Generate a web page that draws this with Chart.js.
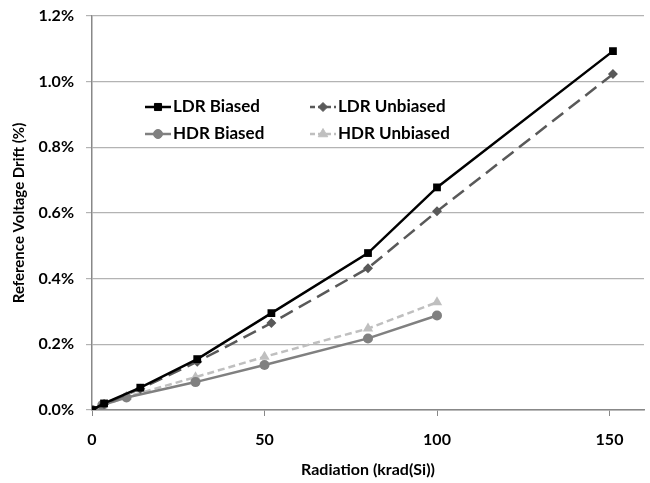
<!DOCTYPE html>
<html>
<head>
<meta charset="utf-8">
<script src="https://cdn.jsdelivr.net/npm/chart.js@4.4.0/dist/chart.umd.min.js"></script>
<style>
  body { margin: 0; background: #fff; }
</style>
</head>
<body>
<canvas id="myChart" width="650" height="483"></canvas>
<script>
// data (drift in %)
var ldrDose = [0, 3.5, 14, 30.5, 52, 80, 100, 151];
var ldrBiased = [0, 0.02, 0.068, 0.155, 0.295, 0.478, 0.678, 1.093];
var ldrUnbiased = [0, 0.018, 0.065, 0.147, 0.265, 0.432, 0.605, 1.023];
var hdrDose = [0, 3, 10, 30, 50, 80, 100];
var hdrBiased = [0, 0.015, 0.038, 0.085, 0.137, 0.218, 0.288];
var hdrUnbiased = [0, 0.013, 0.04, 0.1, 0.162, 0.248, 0.328];
var seriesNames = ["LDR Biased", "LDR Unbiased", "HDR Biased", "HDR Unbiased"];
var xTicks = [0, 50, 100, 150];

function toPoints(xs, ys) {
  return xs.map(function (x, i) { return { x: x, y: ys[i] }; });
}

var FONT = "Lato";

// legend drawn inside the plot, 2 columns like the original
var insideLegend = {
  id: "insideLegend",
  afterDatasetsDraw: function (chart) {
    var ctx = chart.ctx;
    var area = chart.chartArea;
    ctx.save();
    ctx.font = "bold 17px " + FONT;
    ctx.textBaseline = "middle";
    chart.data.datasets.forEach(function (ds, i) {
      var col = i % 2, row = Math.floor(i / 2);
      var x0 = area.left + 53 + col * 165;
      var y = area.top + 91 + row * 27;
      ctx.strokeStyle = ds.borderColor;
      ctx.lineWidth = ds.borderWidth;
      ctx.setLineDash(ds.borderDash ? [5, 3] : []);
      ctx.beginPath();
      ctx.moveTo(x0, y);
      ctx.lineTo(x0 + 26, y);
      ctx.stroke();
      ctx.setLineDash([]);
      ctx.fillStyle = ds.backgroundColor;
      ctx.lineWidth = 1;
      Chart.helpers.drawPoint(ctx, {
        pointStyle: ds.pointStyle,
        radius: ds.pointRadius - 0.5,
        borderWidth: 1
      }, x0 + 13, y);
      ctx.fillStyle = "#000";
      ctx.fillText(ds.label, x0 + 28, y);
    });
    ctx.restore();
  }
};

var ctx = document.getElementById("myChart");
var myChart = new Chart(ctx, {
  type: "line",
  data: {
    datasets: [{
      label: seriesNames[0],
      data: toPoints(ldrDose, ldrBiased),
      borderColor: "#000000",
      backgroundColor: "#000000",
      borderWidth: 2.5,
      pointStyle: "rect",
      pointRadius: 5.5,
      pointBorderWidth: 0
    }, {
      label: seriesNames[1],
      data: toPoints(ldrDose, ldrUnbiased),
      borderColor: "#595959",
      backgroundColor: "#595959",
      borderWidth: 2.5,
      borderDash: [14, 7],
      pointStyle: "rectRot",
      pointRadius: 5,
      pointBorderWidth: 0
    }, {
      label: seriesNames[2],
      data: toPoints(hdrDose, hdrBiased),
      borderColor: "#808080",
      backgroundColor: "#808080",
      borderWidth: 2.5,
      pointStyle: "circle",
      pointRadius: 5,
      pointBorderWidth: 0
    }, {
      label: seriesNames[3],
      data: toPoints(hdrDose, hdrUnbiased),
      borderColor: "#bfbfbf",
      backgroundColor: "#bfbfbf",
      borderWidth: 2.5,
      borderDash: [7, 4],
      pointStyle: "triangle",
      pointRadius: 6,
      pointBorderWidth: 0
    }]
  },
  options: {
    responsive: false,
    animation: false,
    layout: { padding: { top: 16, right: 3, left: 0, bottom: 0 } },
    plugins: {
      legend: { display: false },
      tooltip: { enabled: false }
    },
    scales: {
      x: {
        type: "linear",
        min: 0,
        max: 160,
        border: { color: "#888888", width: 1.5 },
        grid: { drawOnChartArea: false, drawTicks: true, tickLength: 6, color: "#888888" },
        afterBuildTicks: function (axis) {
          axis.ticks = xTicks.map(function (v) { return { value: v }; });
        },
        afterFit: function (axis) {
          axis.height = 73;
          axis.paddingLeft = 0;
          axis.paddingRight = 0;
        },
        ticks: {
          color: "#000",
          font: { family: FONT, size: 16, weight: "bold" },
          padding: 14
        },
        title: {
          display: true,
          text: "Radiation (krad(Si))",
          color: "#000",
          font: { family: FONT, size: 16, weight: "bold" },
          padding: { top: 0 }
        }
      },
      y: {
        min: 0,
        max: 1.2,
        border: { color: "#888888", width: 1.5 },
        grid: { color: "#b3b3b3", lineWidth: 1.2, tickLength: 6 },
        afterFit: function (axis) {
          axis.width = 92;
          axis.paddingTop = 0;
          axis.paddingBottom = 0;
        },
        ticks: {
          stepSize: 0.2,
          color: "#000",
          font: { family: FONT, size: 16, weight: "bold" },
          padding: 12,
          callback: function (v) { return v.toFixed(1) + "%"; }
        },
        title: {
          display: true,
          text: "Reference Voltage Drift (%)",
          color: "#000",
          font: { family: FONT, size: 15, weight: "bold" },
          padding: { top: 10, bottom: 0 }
        }
      }
    }
  },
  plugins: [insideLegend]
});
</script>
</body>
</html>
